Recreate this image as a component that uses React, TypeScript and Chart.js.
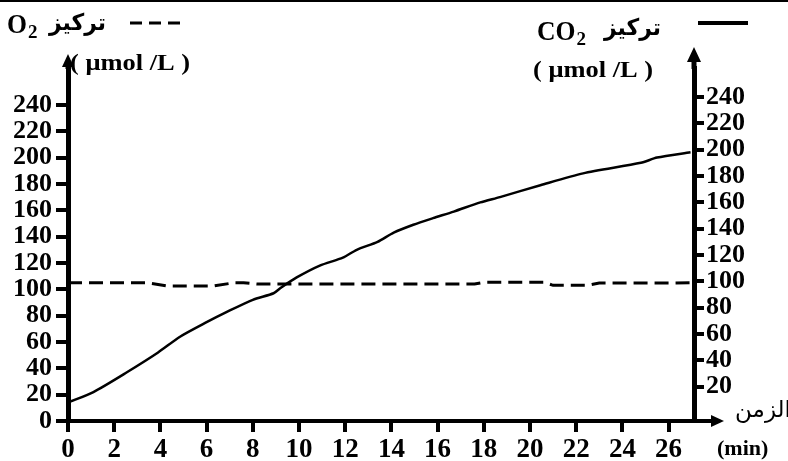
import React, { useEffect, useRef } from 'react';
import { Chart, registerables } from 'chart.js';

Chart.register(...registerables);

// ---- data ----
const timeCO2 = [0, 1.1, 2.55, 3.9, 4.85, 6.0, 6.9, 8.0, 8.9, 9.2, 9.9, 10.9, 11.9, 12.5, 13.4, 14.1, 14.95, 15.8, 16.7, 17.85, 18.7, 20.45, 22.3, 24.8, 25.5, 26.95];
const co2Values = [14, 22, 37, 52, 64, 75, 83, 92, 97, 101, 109, 118, 124, 130, 136, 143, 149, 154, 159, 166, 170, 179, 188, 196, 200, 204];
const timeO2 = [0, 2, 3.4, 4.3, 6.3, 7.2, 7.6, 8.2, 12, 17.6, 18, 20.6, 21, 22.5, 23, 26, 27];
const o2Values = [105, 105, 105, 102.5, 102.5, 105, 105, 104, 104, 104, 105.3, 105.3, 103, 103, 104.7, 104.7, 105];

const xTicks = [0, 2, 4, 6, 8, 10, 12, 14, 16, 18, 20, 22, 24, 26];
const leftTicks = [0, 20, 40, 60, 80, 100, 120, 140, 160, 180, 200, 220, 240];
const rightTicks = [20, 40, 60, 80, 100, 120, 140, 160, 180, 200, 220, 240];

const o2Name = 'تركيز';
const co2Name = 'تركيز';
const unitText = '( μmol /L )';
const timeName = 'الزمن';
const timeUnit = '(min)';

const SERIF = "'Liberation Serif', 'Times New Roman', serif";
const ARABIC = "'DejaVu Sans', sans-serif";

function txt(ctx: CanvasRenderingContext2D, s: string, x: number, y: number, font: string, sx = 1, align: CanvasTextAlign = 'left') {
  ctx.save();
  ctx.font = font;
  ctx.textAlign = align;
  ctx.textBaseline = 'alphabetic';
  ctx.translate(x, y);
  ctx.scale(sx, 1);
  ctx.fillText(s, 0, 0);
  const w = ctx.measureText(s).width * sx;
  ctx.restore();
  return w;
}

const decorPlugin = {
  id: 'decor',
  afterDraw(chart: any) {
    const ctx: CanvasRenderingContext2D = chart.ctx;
    const { left, right, top, bottom } = chart.chartArea;
    ctx.save();
    ctx.fillStyle = '#000';
    ctx.strokeStyle = '#000';
    // top border line
    ctx.fillRect(0, 0, chart.width, 2);

    // left axis arrow
    ctx.lineWidth = 5;
    ctx.beginPath(); ctx.moveTo(left, top + 1); ctx.lineTo(left, top - 4); ctx.stroke();
    ctx.beginPath(); ctx.moveTo(left, top - 14); ctx.lineTo(left - 6, top - 1); ctx.lineTo(left + 6, top - 1); ctx.closePath(); ctx.fill();

    // right axis arrow
    ctx.beginPath(); ctx.moveTo(right, top + 1); ctx.lineTo(right, top - 8); ctx.stroke();
    ctx.beginPath(); ctx.moveTo(right, top - 21); ctx.lineTo(right - 7, top - 6); ctx.lineTo(right + 7, top - 6); ctx.closePath(); ctx.fill();

    // x axis extension + arrow
    ctx.lineWidth = 4;
    ctx.beginPath(); ctx.moveTo(right, bottom); ctx.lineTo(right + 19, bottom); ctx.stroke();
    ctx.beginPath(); ctx.moveTo(right + 30, bottom); ctx.lineTo(right + 17, bottom - 6); ctx.lineTo(right + 17, bottom + 6); ctx.closePath(); ctx.fill();

    // left title: O2 تركيز ---
    const wO = txt(ctx, 'O', 7, 33, `bold 27px ${SERIF}`, 0.95);
    txt(ctx, '2', 7 + wO + 1, 38, `bold 19px ${SERIF}`);
    txt(ctx, o2Name, 49, 30, `bold 23px ${ARABIC}`, 0.95);
    ctx.save();
    ctx.lineWidth = 3;
    ctx.setLineDash([12, 7]);
    ctx.beginPath(); ctx.moveTo(130, 23); ctx.lineTo(183, 23); ctx.stroke();
    ctx.restore();
    txt(ctx, unitText, 70, 70, `bold 23px ${SERIF}`, 1.15);

    // right title: CO2 تركيز —
    const wCO = txt(ctx, 'CO', 537, 40, `bold 27px ${SERIF}`, 0.95);
    txt(ctx, '2', 537 + wCO + 1, 45, `bold 19px ${SERIF}`);
    txt(ctx, co2Name, 604, 35, `bold 23px ${ARABIC}`, 0.95);
    ctx.save();
    ctx.lineWidth = 4;
    ctx.beginPath(); ctx.moveTo(698, 23); ctx.lineTo(748, 23); ctx.stroke();
    ctx.restore();
    txt(ctx, unitText, 533, 77, `bold 23px ${SERIF}`, 1.15);

    // time label
    txt(ctx, timeName, 791, 417, `23px ${ARABIC}`, 1, 'right');
    txt(ctx, timeUnit, 717, 455, `bold 22px ${SERIF}`);
    ctx.restore();
  },
};

export default function App() {
  const ref = useRef<HTMLCanvasElement>(null);
  useEffect(() => {
    if (!ref.current) return;
    const yFont = { family: SERIF, weight: 'bold' as const, size: 26 };
    const xFont = { family: SERIF, weight: 'bold' as const, size: 27 };
    const grid = { display: true, drawOnChartArea: false, drawTicks: true, tickLength: 12, tickWidth: 4, tickColor: '#000', color: '#000', lineWidth: 4 };
    const chart = new Chart(ref.current, {
      type: 'line',
      data: {
        datasets: [
          {
            label: 'CO2',
            data: timeCO2.map((t, i) => ({ x: t, y: co2Values[i] })),
            borderColor: '#000',
            borderWidth: 2.5,
            pointRadius: 0,
            tension: 0.25,
            yAxisID: 'y',
          },
          {
            label: 'O2',
            data: timeO2.map((t, i) => ({ x: t, y: o2Values[i] })),
            borderColor: '#000',
            borderWidth: 3,
            borderDash: [14, 7],
            pointRadius: 0,
            tension: 0,
            yAxisID: 'y',
          },
        ],
      },
      options: {
        responsive: false,
        maintainAspectRatio: false,
        animation: false,
        layout: { padding: { top: 68, left: 0, right: 0, bottom: 0 } },
        plugins: { legend: { display: false }, tooltip: { enabled: false } },
        scales: {
          x: {
            type: 'linear',
            position: 'bottom',
            min: 0,
            max: 27.1,
            afterFit: (s: any) => { s.height = 40; },
            afterBuildTicks: (s: any) => { s.ticks = xTicks.map((v) => ({ value: v })); },
            ticks: { font: xFont, color: '#000', padding: 2, autoSkip: false, maxRotation: 0, callback: (v: any) => String(v) },
            grid: { ...grid, tickLength: 11 },
            border: { display: true, color: '#000', width: 4 },
          },
          y: {
            type: 'linear',
            position: 'left',
            min: 0,
            max: 268,
            afterFit: (s: any) => { s.width = 68; },
            afterBuildTicks: (s: any) => { s.ticks = leftTicks.map((v) => ({ value: v })); },
            ticks: { font: yFont, color: '#000', padding: 4, autoSkip: false, callback: (v: any) => String(v) },
            grid,
            border: { display: true, color: '#000', width: 5 },
          },
          y2: {
            type: 'linear',
            position: 'right',
            min: -6,
            max: 262,
            afterFit: (s: any) => { s.width = 94; },
            afterBuildTicks: (s: any) => { s.ticks = rightTicks.map((v) => ({ value: v })); },
            ticks: { font: yFont, color: '#000', padding: 2, autoSkip: false, callback: (v: any) => String(v) },
            grid: { ...grid, tickLength: 10 },
            border: { display: true, color: '#000', width: 5 },
          },
        },
      },
      plugins: [decorPlugin],
    });
    return () => chart.destroy();
  }, []);
  return (
    <div style={{ position: 'fixed', left: 0, top: 0, width: 788, height: 461, background: '#fff' }}>
      <canvas ref={ref} width={788} height={461} style={{ display: 'block' }} />
    </div>
  );
}
